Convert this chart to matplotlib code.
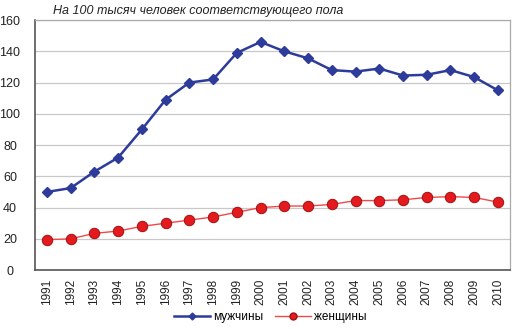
import matplotlib
matplotlib.use("Agg")
import matplotlib.pyplot as plt
from matplotlib.lines import Line2D

years = [str(y) for y in range(1991, 2011)]
men = [50, 52.5, 63, 72, 90, 109, 120, 122, 139, 146, 140, 135.5, 128, 127, 129, 124.5, 125, 128, 123.5, 115]
women = [19.5, 20, 23.5, 25, 28, 30, 32, 34, 37, 40, 41, 41, 42, 44.5, 44.5, 45, 46.5, 47, 46.5, 43.5]
yticks = [0, 20, 40, 60, 80, 100, 120, 140, 160]
title = "На 100 тысяч человек соответствующего пола"
labels = ["мужчины", "женщины"]

plt.rcParams['font.family'] = ['Liberation Sans', 'DejaVu Sans']

fig = plt.figure(figsize=(5.15, 3.29), dpi=100)
ax = fig.add_axes([0.068, 0.179, 0.922, 0.760])

x = list(range(len(years)))
blue = "#2D3C9B"
ax.plot(x, men, color=blue, lw=1.8, marker='D', ms=5.5, mfc=blue, mec=blue, zorder=3)
ax.plot(x, women, color="#F04848", lw=1.0, marker='o', ms=7.5, mfc="#E51A1E", mec="#A01010", mew=0.7, zorder=3)

ax.set_xlim(-0.5, len(years) - 0.5)
ax.set_ylim(0, 160)
ax.set_yticks(yticks)
ax.set_xticks(x)
ax.set_xticklabels(years, rotation=90, fontsize=8.5, color="#222222")
ax.tick_params(axis='y', labelsize=9, length=0, pad=18, colors="#222222")
ax.tick_params(axis='x', length=0, pad=6)
for t in ax.get_yticklabels():
    t.set_horizontalalignment('center')
ax.grid(axis='y', color="#C8C8C8", lw=0.9)
ax.set_axisbelow(True)
for s in ['left', 'bottom']:
    ax.spines[s].set_color("#555555")
    ax.spines[s].set_linewidth(1.2)
for s in ['top', 'right']:
    ax.spines[s].set_color("#AAAAAA")
    ax.spines[s].set_linewidth(0.9)

fig.text(0.102, 0.968, title, fontsize=9, style='italic', va='center', ha='left', color="#222222")

handles = [Line2D([], [], color=blue, lw=1.8, marker='D', ms=3.5),
           Line2D([], [], color="#F04848", lw=1.0, marker='o', ms=5, mfc="#E51A1E", mec="#A01010")]
fig.legend(handles, labels, loc='center', bbox_to_anchor=(0.525, 0.035), ncol=2, frameon=False,
           fontsize=8.5, handlelength=3, columnspacing=1.0, handletextpad=0.3)

fig.savefig("out.png", dpi=100)
